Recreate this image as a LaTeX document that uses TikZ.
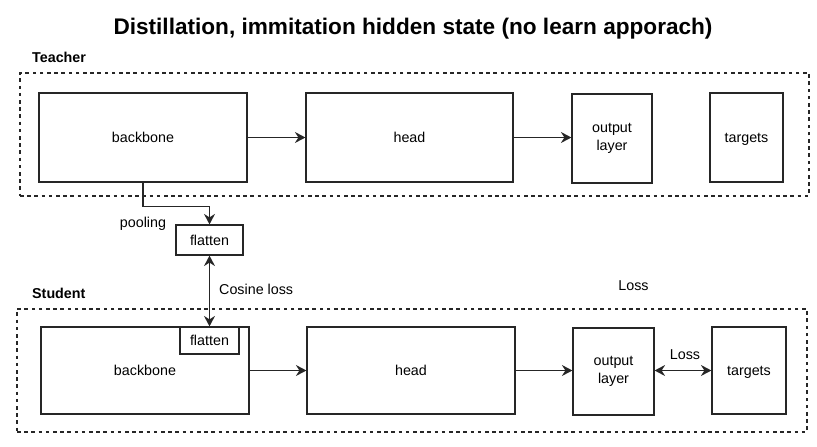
\documentclass[tikz,border=0pt]{standalone}
\usepackage{fontspec}
\setmainfont{Liberation Sans}
\usetikzlibrary{arrows.meta}
\begin{document}
\begin{tikzpicture}[x=1pt,y=-1pt,
  box/.style={draw=black!85, line width=1.2pt, fill=white, inner sep=0pt,
    font=\fontsize{14.3}{18}\selectfont, align=center},
  one/.style={text height=10.3pt, text depth=0pt},
  grp/.style={draw=black!85, line width=1.2pt, dash pattern=on 3.6pt off 3.6pt, inner sep=0pt},
  arr/.style={draw=black!85, line width=1.2pt, -{Stealth[length=10.5pt,width=11pt,inset=3.5pt]}},
  darr/.style={draw=black!85, line width=1.2pt, {Stealth[length=10.5pt,width=11pt,inset=3.5pt]}-{Stealth[length=10.5pt,width=11pt,inset=3.5pt]}},
  lbl/.style={font=\fontsize{14.3}{18}\selectfont, inner sep=0pt, text height=10.3pt, text depth=0pt},
  hdr/.style={font=\bfseries\fontsize{14.3}{18}\selectfont, inner sep=0pt, anchor=west, text height=10.3pt, text depth=0pt}]
\useasboundingbox (0,0) rectangle (817,447);

% title
\node[inner sep=0pt, font=\bfseries\fontsize{22.6}{26}\selectfont, text height=16.2pt, text depth=0pt] (title) at (413,26) {Distillation, immitation hidden state (no learn apporach)};

% teacher
\node[hdr] (thdr) at (32,57) {Teacher};
\node[grp, minimum width=789pt, minimum height=123pt] (tgrp) at (414.5,134.5) {};
\node[box, one, minimum width=208pt, minimum height=89pt] (tb) at (143,137.5) {backbone};
\node[box, one, minimum width=207pt, minimum height=89pt] (th) at (409.5,137.5) {head};
\node[box, minimum width=80pt, minimum height=89pt] (to) at (612,138.5) {output\\layer};
\node[box, one, minimum width=73pt, minimum height=89pt] (tt) at (746.5,137.5) {targets};
\draw[arr] (tb.east) -- (th.west);
\draw[arr] (th.east) -- (to.west |- th.east);

% flatten teacher
\node[box, one, minimum width=67pt, minimum height=30pt] (tf) at (209.5,240) {flatten};
\draw[arr] (tb.south) -- ++(0,24) -| (tf.north);
\node[lbl] (pool) at (143,222) {pooling};

% student
\node[hdr] (shdr) at (32,293) {Student};
\node[grp, minimum width=790pt, minimum height=123pt] (sgrp) at (412,370.5) {};
\node[box, one, minimum width=208pt, minimum height=87pt] (sb) at (145,370.5) {backbone};
\node[box, one, minimum width=59pt, minimum height=27pt] (sf) at (209.5,340.5) {flatten};
\node[box, one, minimum width=208pt, minimum height=87pt] (sh) at (411,370.5) {head};
\node[box, minimum width=81pt, minimum height=87pt] (so) at (613.5,371.5) {output\\layer};
\node[box, one, minimum width=74pt, minimum height=87pt] (st) at (749,370.5) {targets};
\draw[arr] (sb.east) -- (sh.west);
\draw[arr] (sh.east) -- (so.west |- sh.east);
\draw[darr] (so.east |- st.west) -- (st.west);
\node[lbl] (sloss) at (685,354) {Loss};
\node[lbl] (loss) at (633.5,285) {Loss};

% cosine loss
\draw[darr] (tf.south) -- (sf.north);
\node[lbl, anchor=west] (cos) at (219,289) {Cosine loss};
\end{tikzpicture}
\end{document}
